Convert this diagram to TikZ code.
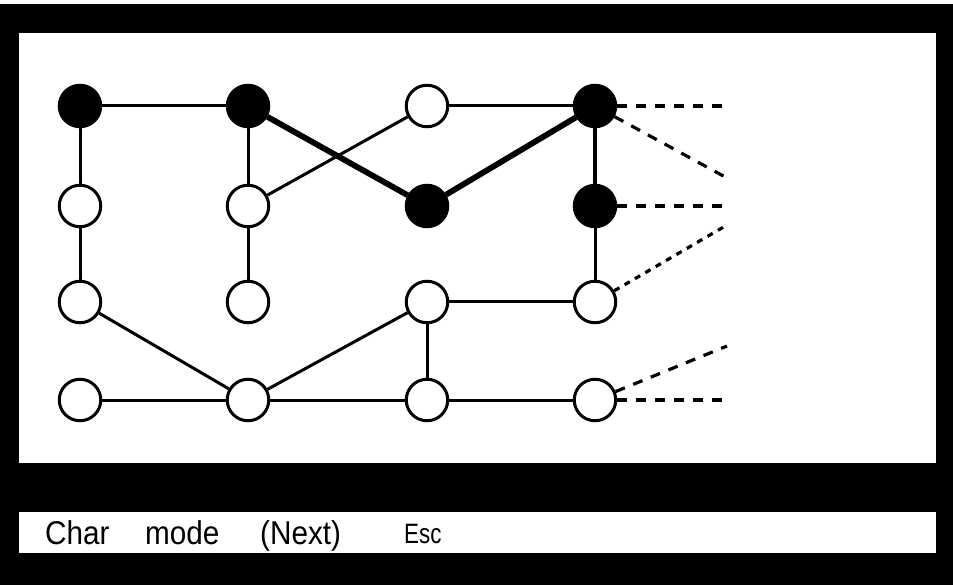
\documentclass[tikz,border=0pt]{standalone}
\usepackage{fontspec}
\setmainfont{Liberation Sans}
\newfontfamily\narrowfont[FakeStretch=0.9]{Liberation Sans}
\newfontfamily\escfont[FakeStretch=0.8]{Liberation Sans}
\begin{document}
\begin{tikzpicture}[x=1pt,y=-1pt,
  vtx/.style={circle, draw=black, line width=3pt, minimum size=41.5pt, inner sep=0pt, fill=white},
  full/.style={vtx, fill=black},
  edge/.style={line width=3pt},
  heavy/.style={line width=5.8pt},
  mid/.style={line width=4.4pt},
  dsh/.style={line width=3.2pt, dash pattern=on 10pt off 9pt},
  dotd/.style={line width=3.2pt, dash pattern=on 6pt off 6pt},
  lbl/.style={anchor=base west, inner sep=0pt, font=\narrowfont\fontsize{33}{36}\selectfont}]
\useasboundingbox (0,0) rectangle (953,585);
\fill[black] (0,4) rectangle (953,585);
\fill[white] (19,33) rectangle (936,463);
\fill[white] (19,512) rectangle (936,553);
% vertices
\node[full] (a1) at (80,106) {};
\node[full] (b1) at (248,106) {};
\node[vtx]  (c1) at (427,106) {};
\node[full] (d1) at (595,106) {};
\node[vtx]  (a2) at (80,206) {};
\node[vtx]  (b2) at (248,206) {};
\node[full] (c2) at (427,206) {};
\node[full] (d2) at (595,206) {};
\node[vtx]  (a3) at (80,302) {};
\node[vtx]  (b3) at (248,302) {};
\node[vtx]  (c3) at (427,302) {};
\node[vtx]  (d3) at (595,302) {};
\node[vtx]  (a4) at (80,400) {};
\node[vtx]  (b4) at (248,400) {};
\node[vtx]  (c4) at (427,400) {};
\node[vtx]  (d4) at (595,400) {};
% free ends
\coordinate (e1) at (727,106);
\coordinate (e2) at (727,178);
\coordinate (e3) at (727,206);
\coordinate (e4) at (727,225);
\coordinate (e5) at (727,346);
\coordinate (e6) at (727,400);
% edges
\draw[edge] (a1) -- (b1);
\draw[edge] (a1) -- (a2);
\draw[edge] (a2) -- (a3);
\draw[edge] (b1) -- (b2);
\draw[edge] (b2) -- (b3);
\draw[edge] (b2) -- (c1);
\draw[edge] (c1) -- (d1);
\draw[heavy] (b1) -- (c2);
\draw[heavy] (c2) -- (d1);
\draw[mid] (d1) -- (d2);
\draw[edge] (d2) -- (d3);
\draw[edge] (a3) -- (b4);
\draw[edge] (a4) -- (b4);
\draw[edge] (b4) -- (c3);
\draw[edge] (c3) -- (d3);
\draw[edge] (c3) -- (c4);
\draw[edge] (b4) -- (c4);
\draw[edge] (c4) -- (d4);
% dashed continuations
\draw[dsh] (d1) -- (e1);
\draw[dsh] (d1) -- (e2);
\draw[dsh] (d2) -- (e3);
\draw[dotd] (d3) -- (e4);
\draw[dsh] (d4) -- (e5);
\draw[dsh] (d4) -- (e6);
% status bar
\node[lbl] (t1) at (45,544) {Char};
\node[lbl] (t2) at (145,544) {mode};
\node[lbl] (t3) at (260,544) {(Next)};
\node[lbl, font=\escfont\fontsize{28}{31}\selectfont] (t4) at (404,543) {Esc};
\end{tikzpicture}
\end{document}
